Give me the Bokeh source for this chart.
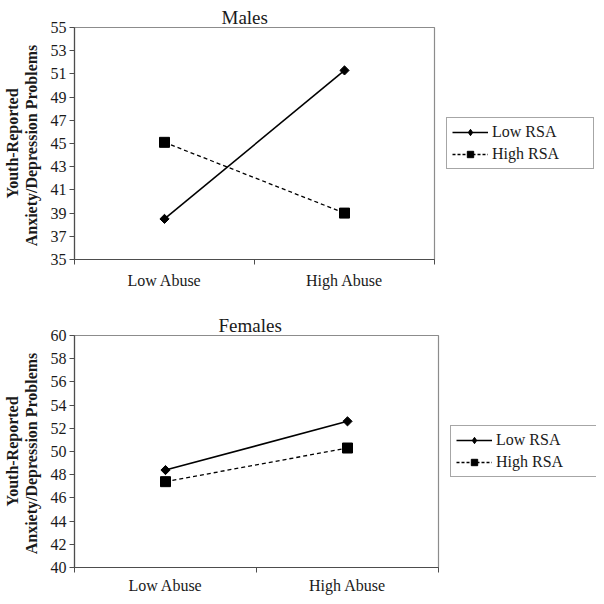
import math
from bokeh.plotting import figure
from bokeh.layouts import column, row
from bokeh.models import FixedTicker, Legend, LegendItem, Range1d
from bokeh.embed import file_html
from bokeh.resources import INLINE

categories = ["Low Abuse", "High Abuse"]
series_names = ["Low RSA", "High RSA"]

males_low_rsa = [38.5, 51.3]
males_high_rsa = [45.1, 39.0]
females_low_rsa = [48.4, 52.6]
females_high_rsa = [47.4, 50.3]

males_yticks = list(range(35, 56, 2))
females_yticks = list(range(40, 61, 2))

FONT = "Liberation Serif"
TEXT = "#1a1a1a"
AXIS = "#4d4d4d"
FRAME = "#8c8c8c"


def make_panel(title, low, high, yticks, width, height, border_top,
               border_bottom, title_offset, xlabel_standoff,
               legend_width, legend_border_top, legend_border_bottom):
    xs = [i + 0.5 for i in range(len(categories))]
    p = figure(width=width, height=height, output_backend="svg",
               toolbar_location=None, x_range=Range1d(0, len(categories)),
               y_range=Range1d(yticks[0], yticks[-1]),
               min_border_left=74, min_border_right=2,
               min_border_top=border_top, min_border_bottom=border_bottom,
               title=title)
    p.title.text_font = FONT
    p.title.text_font_size = "19px"
    p.title.text_font_style = "normal"
    p.title.text_color = TEXT
    p.title.align = "left"
    p.title.offset = title_offset
    p.title.standoff = 0
    p.title.text_line_height = 1.0

    p.grid.visible = False
    p.outline_line_color = FRAME
    p.outline_line_width = 1.2
    p.background_fill_color = "white"
    p.border_fill_color = "white"

    # x axis: labels at category centres, ticks at category boundaries
    xa = p.xaxis[0]
    xa.ticker = FixedTicker(ticks=xs, minor_ticks=[i for i in range(len(categories) + 1)])
    xa.major_label_overrides = {x: c for x, c in zip(xs, categories)}
    xa.major_tick_line_color = None
    xa.major_tick_out = 5
    xa.major_tick_in = 0
    xa.minor_tick_out = 5
    xa.minor_tick_in = 0
    xa.minor_tick_line_color = AXIS
    xa.major_label_standoff = xlabel_standoff
    xa.major_label_text_font = FONT
    xa.major_label_text_font_size = "16px"
    xa.major_label_text_color = TEXT
    xa.axis_line_color = AXIS
    xa.axis_line_width = 1.2

    # y axis
    ya = p.yaxis[0]
    ya.ticker = FixedTicker(ticks=yticks, minor_ticks=[])
    ya.major_tick_out = 5
    ya.major_tick_in = 0
    ya.major_tick_line_color = AXIS
    ya.minor_tick_line_color = None
    ya.major_label_standoff = 3
    ya.major_label_text_font = FONT
    ya.major_label_text_font_size = "16px"
    ya.major_label_text_color = TEXT
    ya.axis_line_color = AXIS
    ya.axis_line_width = 1.2
    ya.axis_label = "Youth-Reported\nAnxiety/Depression  Problems"
    ya.axis_label_text_font = FONT
    ya.axis_label_text_font_size = "16px"
    ya.axis_label_text_font_style = "bold"
    ya.axis_label_text_color = TEXT
    ya.axis_label_text_line_height = 1.1
    ya.axis_label_standoff = 8

    p.line(xs, low, line_color="black", line_width=1.6)
    p.scatter(xs, low, marker="square", angle=math.pi / 4, size=6.5,
              fill_color="black", line_color="black")
    p.line(xs, high, line_color="black", line_width=1.3, line_dash="4 3")
    p.scatter(xs, high, marker="square", size=10,
              fill_color="black", line_color="black")

    # legend lives in a companion figure beside the chart; its renderers are
    # hidden copies of the series used only to draw the legend glyphs
    lf = figure(width=legend_width, height=height, output_backend="svg",
                toolbar_location=None, x_axis_location=None,
                y_axis_location=None, min_border_left=0, min_border_right=0,
                min_border_top=legend_border_top,
                min_border_bottom=legend_border_bottom)
    lf.grid.visible = False
    lf.outline_line_color = None
    lf.border_fill_color = "white"
    ll1 = lf.line(xs, low, line_color="black", line_width=1.6, visible=False)
    lm1 = lf.scatter(xs, low, marker="diamond", size=10,
                     fill_color="black", line_color="black", visible=False)
    ll2 = lf.line(xs, high, line_color="black", line_width=1.3,
                  line_dash="3 2", visible=False)
    lm2 = lf.scatter(xs, high, marker="square", size=7,
                     fill_color="black", line_color="black", visible=False)
    legend = Legend(items=[LegendItem(label=series_names[0], renderers=[ll1, lm1]),
                           LegendItem(label=series_names[1], renderers=[ll2, lm2])],
                    location="left")
    legend.label_text_font = FONT
    legend.label_text_font_size = "16px"
    legend.label_text_line_height = 1.0
    legend.label_text_color = TEXT
    legend.glyph_width = 36
    legend.glyph_height = 16
    legend.label_height = 16
    legend.label_width = 96
    legend.label_standoff = 4
    legend.spacing = 4
    legend.padding = 5
    legend.margin = 10
    legend.inactive_fill_alpha = 0
    legend.border_line_color = AXIS
    legend.border_line_width = 1.2
    legend.background_fill_alpha = 1
    lf.add_layout(legend, "center")
    return row(p, lf, spacing=0)


p1 = make_panel("Males", males_low_rsa, males_high_rsa, males_yticks,
                width=436, height=298, border_top=27, border_bottom=39,
                title_offset=147, xlabel_standoff=7,
                legend_width=160, legend_border_top=0, legend_border_bottom=9)
p2 = make_panel("Females", females_low_rsa, females_high_rsa, females_yticks,
                width=440, height=298, border_top=37, border_bottom=29,
                title_offset=144, xlabel_standoff=4,
                legend_width=156, legend_border_top=10, legend_border_bottom=0)

layout = column(p1, p2, spacing=0)
open("out.html", "w").write(file_html(layout, INLINE))
